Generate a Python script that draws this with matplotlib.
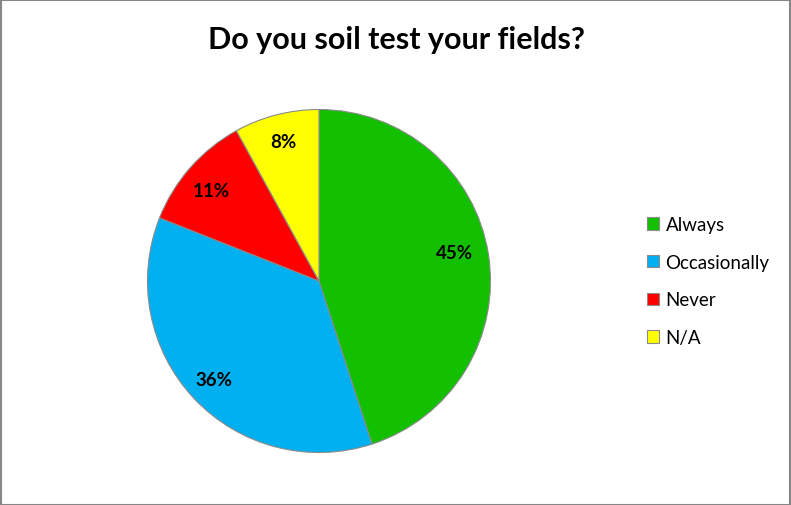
import matplotlib
matplotlib.use("Agg")
import matplotlib.pyplot as plt
from matplotlib.patches import Rectangle

categories = ["Always", "Occasionally", "Never", "N/A"]
values = [45, 36, 11, 8]
colors = ["#12C000", "#00B0F0", "#FF0000", "#FFFF00"]
title = "Do you soil test your fields?"

plt.rcParams['font.family'] = ['Lato', 'DejaVu Sans']

W, H = 791, 506
fig = plt.figure(figsize=(W/100, H/100), dpi=100)
fig.patch.set_facecolor("white")

cx, cy, r = 319, 282, 171.5
ax = fig.add_axes([(cx - r)/W, (H - cy - r)/H, 2*r/W, 2*r/H])
wedges, texts, autotexts = ax.pie(
    values, colors=colors, startangle=90, counterclock=False,
    autopct=lambda p: f"{p:.0f}%", pctdistance=0.84, radius=1,
    wedgeprops=dict(edgecolor="#8a8a8a", linewidth=0.8),
    textprops=dict(fontsize=13.5, fontweight="bold", color="black"))
# nudge labels slightly as in the reference
x, y = autotexts[0].get_position()
autotexts[0].set_position((x * 0.95, y * 1.25))
x, y = autotexts[2].get_position()
autotexts[2].set_position((x, y * 0.95))
ax.set_xlim(-1, 1)
ax.set_ylim(-1, 1)
ax.set_aspect("equal")
ax.axis("off")

fig.text(396/W, 1 - 40/H, title, ha="center", va="center",
         fontsize=22, fontweight="bold")

leg = fig.legend(wedges, categories, loc="center left",
                 bbox_to_anchor=(647/W, 1 - 282/H), frameon=False,
                 borderaxespad=0, borderpad=0,
                 fontsize=13.5, handlelength=0.64, handleheight=0.64,
                 handletextpad=0.35, labelspacing=1.1)
for h in leg.legend_handles:
    h.set_edgecolor("#8a8a8a")
    h.set_linewidth(0.8)

fig.add_artist(Rectangle((0.5/W, 0.5/H), 1 - 1.5/W, 1 - 1.5/H,
                         transform=fig.transFigure, fill=False,
                         edgecolor="#868686", linewidth=1.5))

fig.savefig("out.png", dpi=100)
